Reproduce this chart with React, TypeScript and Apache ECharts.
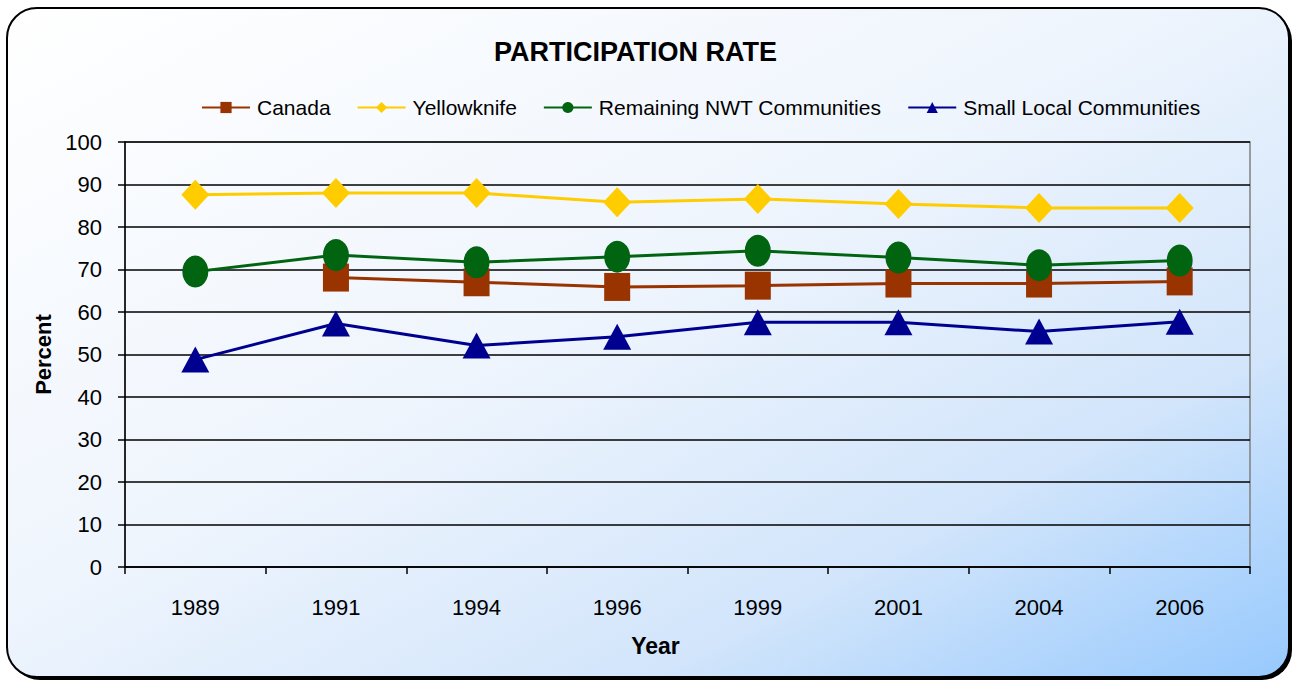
import React, { useEffect, useRef } from "react";
import * as echarts from "echarts";

const years = ["1989", "1991", "1994", "1996", "1999", "2001", "2004", "2006"];
const canada = [null, 68.1, 67.0, 65.9, 66.2, 66.7, 66.7, 67.2];
const yellowknife = [87.6, 88.0, 88.0, 85.8, 86.6, 85.4, 84.5, 84.5];
const remainingNWT = [69.5, 73.4, 71.7, 73.0, 74.4, 72.8, 71.0, 72.1];
const smallLocal = [48.8, 57.3, 52.1, 54.2, 57.6, 57.6, 55.4, 57.7];

const FONT = "'Liberation Sans', Arial, sans-serif";

export default function App() {
  const ref = useRef<HTMLDivElement>(null);
  useEffect(() => {
    if (!ref.current) return;
    const chart = echarts.init(ref.current, undefined, { renderer: "svg" });
    const mk = (name: string, data: any[], color: string, symbol: string, size: any) => ({
      name,
      type: "line",
      data,
      symbol,
      symbolSize: size,
      showAllSymbol: true,
      connectNulls: false,
      lineStyle: { color, width: 3 },
      itemStyle: { color },
      z: 3,
    });
    chart.setOption({
      animation: false,
      textStyle: { fontFamily: FONT },
      graphic: [
        {
          type: "rect",
          z: -10,
          shape: { x: 10, y: 11, width: 1282, height: 669, r: 30 },
          style: { fill: "#000" },
        },
        {
          type: "rect",
          z: -9,
          shape: { x: 7, y: 8, width: 1282, height: 669, r: 30 },
          style: {
            fill: new echarts.graphic.LinearGradient(0, 0, 1, 1, [
              { offset: 0, color: "#ffffff" },
              { offset: 0.45, color: "#eff5fd" },
              { offset: 0.75, color: "#d2e5fb" },
              { offset: 1, color: "#97c9fd" },
            ]),
            stroke: "#000",
            lineWidth: 2,
          },
        },
        {
          type: "rect",
          z: -1,
          shape: { x: 125, y: 142, width: 1125, height: 425 },
          style: { fill: "none", stroke: "#808080", lineWidth: 1.5 },
        },
      ],
      title: {
        text: "PARTICIPATION RATE",
        left: 489,
        top: 33,
        textStyle: { fontFamily: FONT, fontSize: 27, fontWeight: "bold", color: "#000" },
      },
      legend: {
        top: 92,
        left: 196,
        itemWidth: 48,
        itemHeight: 14,
        itemGap: 26,
        textStyle: { fontFamily: FONT, fontSize: 21, color: "#000", padding: [0, 0, 0, 2] },
        data: ["Canada", "Yellowknife", "Remaining NWT Communities", "Small Local Communities"],
      },
      grid: { left: 125, right: 46, top: 142, bottom: 114 },
      xAxis: {
        type: "category",
        data: years,
        boundaryGap: true,
        name: "Year",
        nameLocation: "middle",
        nameGap: 67,
        nameTextStyle: {
          fontFamily: FONT,
          fontSize: 23,
          fontWeight: "bold",
          color: "#000",
          padding: [0, 64, 0, 0],
        },
        axisLine: { lineStyle: { color: "#000", width: 1.5 } },
        axisTick: { show: true, length: 7, alignWithLabel: false, lineStyle: { color: "#000", width: 1.5 } },
        axisLabel: { margin: 29, fontFamily: FONT, fontSize: 22, color: "#000" },
        splitLine: { show: false },
      },
      yAxis: {
        type: "value",
        min: 0,
        max: 100,
        interval: 10,
        name: "Percent",
        nameLocation: "middle",
        nameGap: 71,
        nameRotate: 90,
        nameTextStyle: { fontFamily: FONT, fontSize: 22, fontWeight: "bold", color: "#000" },
        axisLine: { show: true, lineStyle: { color: "#000", width: 1.5 } },
        axisTick: { show: true, length: 7, lineStyle: { color: "#000", width: 1.5 } },
        axisLabel: { margin: 23, fontFamily: FONT, fontSize: 22, color: "#000" },
        splitLine: { show: true, lineStyle: { color: "#000", width: 1.5 } },
      },
      series: [
        mk("Canada", canada, "#993300", "rect", [26, 28]),
        mk("Yellowknife", yellowknife, "#ffcc00", "diamond", [28, 30]),
        mk("Remaining NWT Communities", remainingNWT, "#006411", "circle", [26, 32]),
        mk("Small Local Communities", smallLocal, "#000090", "triangle", [28, 26]),
      ],
    });
    return () => chart.dispose();
  }, []);
  return (
    <div
      ref={ref}
      style={{ position: "absolute", left: 0, top: 0, width: 1296, height: 681 }}
    />
  );
}
